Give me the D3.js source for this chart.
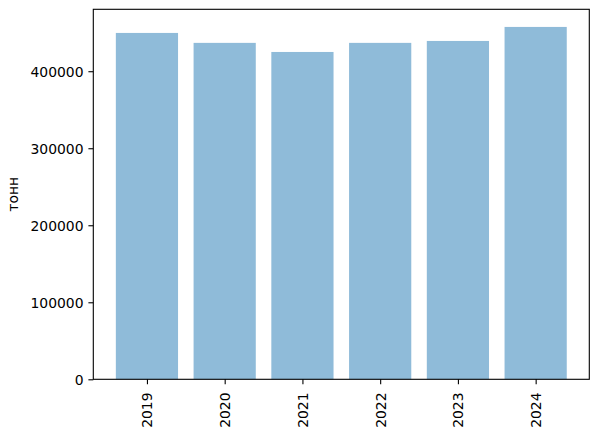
<!DOCTYPE html>
<html><head><meta charset="utf-8">
<script src="https://cdn.jsdelivr.net/npm/d3@7"></script>
<style>body{margin:0;background:#fff}svg{display:block}text{font-family:"DejaVu Sans",sans-serif}</style>
</head><body>
<svg id="c" width="598" height="434"></svg>
<script>
const years = ["2019","2020","2021","2022","2023","2024"];
const values = [449700, 436800, 425000, 436800, 439300, 457500];
const yTicks = [0,100000,200000,300000,400000];
const yLabel = "тонн";

const svg = d3.select("#c");
const L = 93.3, R = 589.3, T = 9.3, B = 379.3;
const fs = 13.9;
const x = d3.scaleLinear().domain([-0.69, 5.69]).range([L, R]);
const y = d3.scaleLinear().domain([0, 480400]).range([B, T]);
const bw = x(0.8) - x(0);

svg.append("g").selectAll("rect").data(values).join("rect")
  .attr("x", (d,i) => x(i - 0.4)).attr("width", bw)
  .attr("y", d => y(d)).attr("height", d => B - y(d))
  .attr("fill", "#1f77b4").attr("fill-opacity", 0.5);

svg.append("rect").attr("x", L).attr("y", T).attr("width", R-L).attr("height", B-T)
  .attr("fill","none").attr("stroke","#000").attr("stroke-width",1.1);

const yAxis = d3.axisLeft(y).tickValues(yTicks).tickFormat(d3.format("d")).tickSize(4.9).tickPadding(4.9);
const gy = svg.append("g").attr("transform", `translate(${L},0)`).call(yAxis);
gy.select(".domain").remove();
gy.selectAll("line").attr("stroke","#000").attr("stroke-width",1.1);
gy.selectAll("text").attr("font-size", fs).attr("fill","#000").attr("dy","0.35em");

const xAxis = d3.axisBottom(x).tickValues(d3.range(years.length)).tickFormat(i => years[i]).tickSize(4.9).tickPadding(4.9);
const gx = svg.append("g").attr("transform", `translate(0,${B})`).call(xAxis);
gx.select(".domain").remove();
gx.selectAll("line").attr("stroke","#000").attr("stroke-width",1.1);
gx.selectAll("text").attr("font-size", fs).attr("fill","#000")
  .attr("transform","rotate(-90)").attr("text-anchor","end")
  .attr("x", -13.2).attr("y", 0).attr("dy","0.35em");

svg.append("text").attr("transform", `translate(17.5,${(T+B)/2}) rotate(-90)`)
  .attr("text-anchor","middle").attr("font-size", fs).attr("fill","#000").text(yLabel);
</script>
</body></html>
